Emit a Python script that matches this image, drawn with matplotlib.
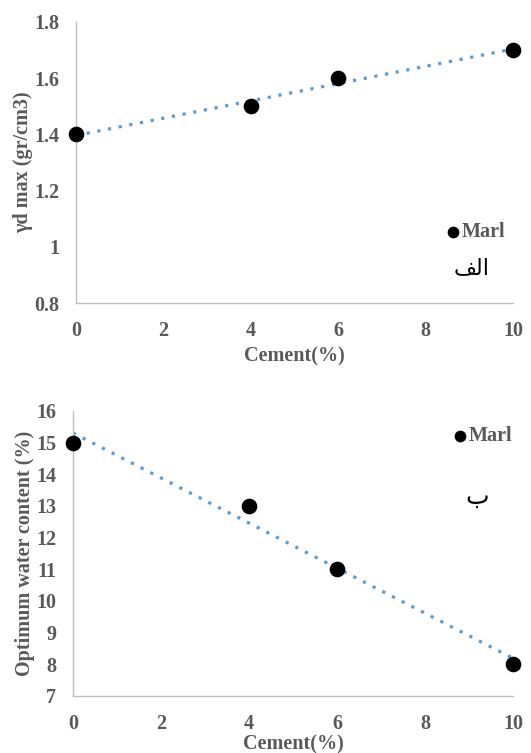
import numpy as np
import matplotlib
matplotlib.use("Agg")
import matplotlib.pyplot as plt

cement = [0, 4, 6, 10]
gamma_d = [1.4, 1.5, 1.6, 1.7]
omc = [15, 13, 11, 8]
x_ticks = [0, 2, 4, 6, 8, 10]
y1_ticks = [0.8, 1.0, 1.2, 1.4, 1.6, 1.8]
y1_labels = ["0.8", "1", "1.2", "1.4", "1.6", "1.8"]
y2_ticks = [7, 8, 9, 10, 11, 12, 13, 14, 15, 16]

gray = "#595959"
serif = ["Liberation Serif", "DejaVu Serif"]
FS = 14.5

fig = plt.figure(figsize=(5.31, 7.53), dpi=100)
ax1 = fig.add_axes([0.1431, 0.5976, 0.8230, 0.3732])
ax2 = fig.add_axes([0.1375, 0.0757, 0.8286, 0.3785])

def style(ax, yt, ylab, ytl=None, xpad=13, xlabpad=6, ylabpad=0):
    ax.set_xlim(0, 10)
    ax.set_xticks(x_ticks)
    ax.set_yticks(yt)
    if ytl is not None:
        ax.set_yticklabels(ytl)
    for s in ["top", "right"]:
        ax.spines[s].set_visible(False)
    for s in ["left", "bottom"]:
        ax.spines[s].set_color("#bfbfbf")
        ax.spines[s].set_linewidth(1.0)
    ax.tick_params(axis="x", length=0, pad=xpad, labelsize=FS, labelcolor=gray)
    ax.tick_params(axis="y", length=0, pad=12, labelsize=FS, labelcolor=gray)
    for t in ax.get_xticklabels() + ax.get_yticklabels():
        t.set_fontfamily(serif)
        t.set_fontweight("bold")
    ax.set_xlabel("Cement(%)", fontsize=FS, fontweight="bold", color=gray, family=serif, labelpad=xlabpad)
    ax.set_ylabel(ylab, fontsize=FS, fontweight="bold", color=gray, family=serif, labelpad=ylabpad)
    for t in ax.get_xticklabels():
        t.set_clip_on(False)

xx = np.array([0, 10])

# top chart
ax1.set_ylim(0.8, 1.8)
c1 = np.polyfit(cement, gamma_d, 1)
ax1.plot(xx, np.polyval(c1, xx), linestyle=(0, (1, 2.4)), color="#5b9bd5", lw=2.3, zorder=1)
ax1.scatter(cement, gamma_d, s=105, color="black", zorder=3, clip_on=False)
style(ax1, y1_ticks, "γd max (gr/cm3)", y1_labels, xpad=13, xlabpad=4, ylabpad=1)
ax1.scatter([8.63], [1.054], s=55, color="black", clip_on=False)
ax1.text(8.83, 1.054, "Marl", fontsize=FS, fontweight="bold", color=gray, family=serif, va="center")
ax1.text(9.06, 0.925, "\uFED2\uFEDF\uFE8D", fontsize=16, color="black", family=["DejaVu Sans"], ha="center", va="center")

# bottom chart
ax2.set_ylim(7, 16)
c2 = np.polyfit(cement, omc, 1)
ax2.plot(xx, np.polyval(c2, xx), linestyle=(0, (1, 2.4)), color="#5b9bd5", lw=2.3, zorder=1)
ax2.scatter(cement, omc, s=105, color="black", zorder=3, clip_on=False)
style(ax2, y2_ticks, "Optimum water content (%)", xpad=13, xlabpad=0, ylabpad=1)
ax2.scatter([8.8], [15.21], s=55, color="black", clip_on=False)
ax2.text(9.0, 15.21, "Marl", fontsize=FS, fontweight="bold", color=gray, family=serif, va="center")
ax2.text(9.18, 13.28, "\uFE8F", fontsize=18, color="black", family=["DejaVu Sans"], ha="center", va="center")

fig.savefig("out.png", dpi=100)
